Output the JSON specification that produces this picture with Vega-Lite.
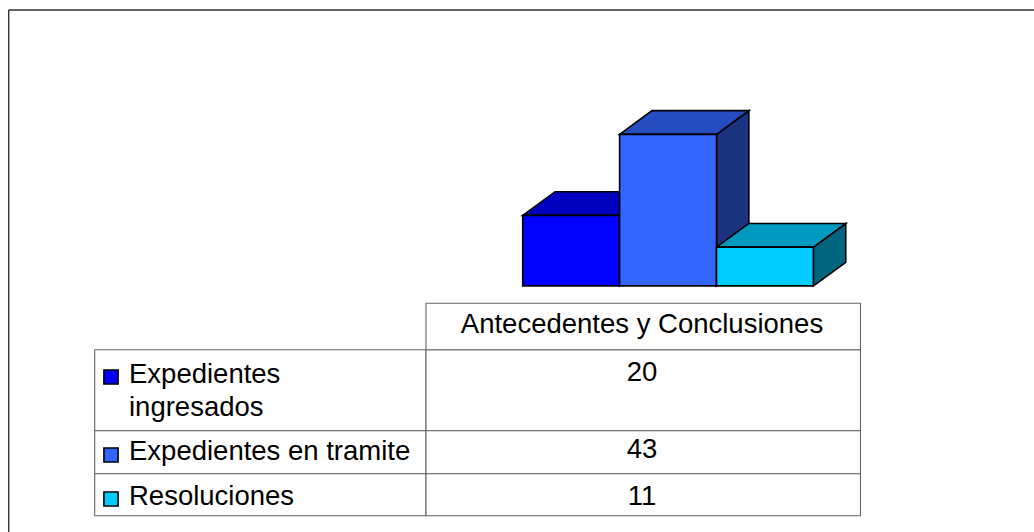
{
"$schema":"https://vega.github.io/schema/vega-lite/v6.json",
"width":1034,"height":532,"padding":0,
"autosize":{"type":"fit","contains":"padding"},
"background":"white",
"config":{"view":{"stroke":null},"font":"Liberation Sans","text":{"font":"Liberation Sans"}},
"datasets":{"rows":[
{"name":"Expedientes ingresados","label":"Expedientes\ningresados","value":20,"order":1,"front":"#0000FF","top":"#0000C0","side":"#000080"},
{"name":"Expedientes en tramite","label":"Expedientes en tramite","value":43,"order":2,"front":"#3366FF","top":"#264DBF","side":"#1A337F"},
{"name":"Resoluciones","label":"Resoluciones","value":11,"order":3,"front":"#00CCFF","top":"#0099BF","side":"#00667F"}
],"header":[{"serie":"Antecedentes y Conclusiones","order":0}]},
"resolve":{"scale":{"x":"independent","y":"independent"}},
"layer":[
{"data":{"values":[{"edge":"left"}]},"mark":{"type":"rule","color":"#333333","strokeWidth":1.4},
 "encoding":{"x":{"datum":0,"type":"quantitative","scale":{"domain":[0,1],"range":[8.7,1034]},"axis":null},
 "y":{"datum":0,"type":"quantitative","scale":{"domain":[0,1],"range":[10,532]},"axis":null},"y2":{"datum":1}}},
{"data":{"values":[{"edge":"top"}]},"mark":{"type":"rule","color":"#333333","strokeWidth":1.4},
 "encoding":{"x":{"datum":0,"type":"quantitative","scale":{"domain":[0,1],"range":[8.7,1034]},"axis":null},"x2":{"datum":1},
 "y":{"datum":0,"type":"quantitative","scale":{"domain":[0,1],"range":[10,532]},"axis":null}}},
{"data":{"name":"rows"},
 "transform":[{"calculate":"datum.order","as":"f"},{"calculate":"datum.order+0.334","as":"b"},{"fold":["f","b"],"as":["edge","xv"]},
 {"calculate":"datum.edge=='b'?6.68:0","as":"y0"},{"calculate":"datum.value+datum.y0","as":"y1"}],
 "mark":{"type":"area","stroke":"black","strokeWidth":1.6,"opacity":1},
 "encoding":{"x":{"field":"xv","type":"quantitative","scale":{"domain":[0,3],"range":[522.7,813.4]},"axis":null},
 "y":{"field":"y1","type":"quantitative","scale":{"domain":[0,50],"range":[285.9,109.7]},"axis":null},"y2":{"field":"y0"},
 "detail":{"field":"name","type":"nominal"},
 "fill":{"field":"side","type":"nominal","scale":null,"legend":null}}},
{"data":{"name":"rows"},
 "transform":[{"calculate":"datum.order-1","as":"xv"}],
 "mark":{"type":"point","filled":true,"shape":"M0,0 L96.9,0 L129.3,-23.7 L32.4,-23.7 Z","size":4,"stroke":"black","strokeWidth":1.6,"opacity":1},
 "encoding":{"x":{"field":"xv","type":"quantitative","scale":{"domain":[0,3],"range":[522.7,813.4]},"axis":null},
 "y":{"field":"value","type":"quantitative","scale":{"domain":[0,50],"range":[285.9,109.7]},"axis":null},
 "fill":{"field":"top","type":"nominal","scale":null,"legend":null}}},
{"data":{"name":"rows"},
 "transform":[{"calculate":"datum.order-1","as":"xa"},{"calculate":"datum.order","as":"xb"},{"calculate":"0","as":"zero"}],
 "mark":{"type":"rect","stroke":"black","strokeWidth":1.6},
 "encoding":{"x":{"field":"xa","type":"quantitative","scale":{"domain":[0,3],"range":[522.7,813.4]},"axis":null},"x2":{"field":"xb"},
 "y":{"field":"zero","type":"quantitative","scale":{"domain":[0,50],"range":[285.9,109.7]},"axis":null},"y2":{"field":"value"},
 "fill":{"field":"front","type":"nominal","scale":null,"legend":null}}},
{"data":{"name":"rows"},
 "transform":[{"calculate":"datum.order+1","as":"next"},{"calculate":"0","as":"c0"},{"calculate":"1","as":"c1"}],
 "mark":{"type":"rect","fill":"white","stroke":"#666666","strokeWidth":1.1},
 "encoding":{"x":{"field":"c0","type":"quantitative","scale":{"domain":[0,1,2],"range":[94.7,426,860.5]},"axis":null},"x2":{"field":"c1"},
 "y":{"field":"order","type":"quantitative","scale":{"domain":[0,1,2,3,4],"range":[303.3,349.7,430.7,473.7,515.7]},"axis":null},"y2":{"field":"next"}}},
{"data":{"name":"rows"},
 "transform":[{"calculate":"datum.order+1","as":"next"},{"calculate":"1","as":"c0"},{"calculate":"2","as":"c1"}],
 "mark":{"type":"rect","fill":"white","stroke":"#666666","strokeWidth":1.1},
 "encoding":{"x":{"field":"c0","type":"quantitative","scale":{"domain":[0,1,2],"range":[94.7,426,860.5]},"axis":null},"x2":{"field":"c1"},
 "y":{"field":"order","type":"quantitative","scale":{"domain":[0,1,2,3,4],"range":[303.3,349.7,430.7,473.7,515.7]},"axis":null},"y2":{"field":"next"}}},
{"data":{"name":"header"},
 "transform":[{"calculate":"datum.order+1","as":"next"},{"calculate":"1","as":"c0"},{"calculate":"2","as":"c1"}],
 "mark":{"type":"rect","fill":"white","stroke":"#666666","strokeWidth":1.1},
 "encoding":{"x":{"field":"c0","type":"quantitative","scale":{"domain":[0,1,2],"range":[94.7,426,860.5]},"axis":null},"x2":{"field":"c1"},
 "y":{"field":"order","type":"quantitative","scale":{"domain":[0,1,2,3,4],"range":[303.3,349.7,430.7,473.7,515.7]},"axis":null},"y2":{"field":"next"}}},
{"data":{"name":"header"},
 "mark":{"type":"text","fontSize":27.5,"align":"center","baseline":"middle","color":"black"},
 "encoding":{"x":{"datum":1,"type":"quantitative","scale":{"domain":[0,1,2],"range":[94.7,642,860.5]},"axis":null},
 "y":{"field":"order","type":"quantitative","scale":{"domain":[0,1],"range":[325,371]},"axis":null},
 "text":{"field":"serie","type":"nominal"}}},
{"data":{"name":"rows"},
 "mark":{"type":"text","fontSize":27.5,"align":"left","baseline":"middle","lineHeight":33,"lineBreak":"\n","color":"black"},
 "encoding":{"x":{"datum":0,"type":"quantitative","scale":{"domain":[0,1],"range":[129,1000]},"axis":null},
 "y":{"field":"order","type":"quantitative","scale":{"domain":[1,2,3],"range":[375,452,497]},"axis":null},
 "text":{"field":"label","type":"nominal"}}},
{"data":{"name":"rows"},
 "mark":{"type":"text","fontSize":27.5,"align":"center","baseline":"middle","color":"black"},
 "encoding":{"x":{"datum":1,"type":"quantitative","scale":{"domain":[0,1],"range":[0,642]},"axis":null},
 "y":{"field":"order","type":"quantitative","scale":{"domain":[1,2,3],"range":[373,450,497]},"axis":null},
 "text":{"field":"value","type":"quantitative"}}},
{"data":{"name":"rows"},
 "mark":{"type":"square","size":200,"stroke":"black","strokeWidth":1.6,"opacity":1},
 "encoding":{"x":{"datum":0,"type":"quantitative","scale":{"domain":[0,1],"range":[111,1000]},"axis":null},
 "y":{"field":"order","type":"quantitative","scale":{"domain":[1,2,3],"range":[377,455,499]},"axis":null},
 "fill":{"field":"front","type":"nominal","scale":null,"legend":null}}}
]
}
